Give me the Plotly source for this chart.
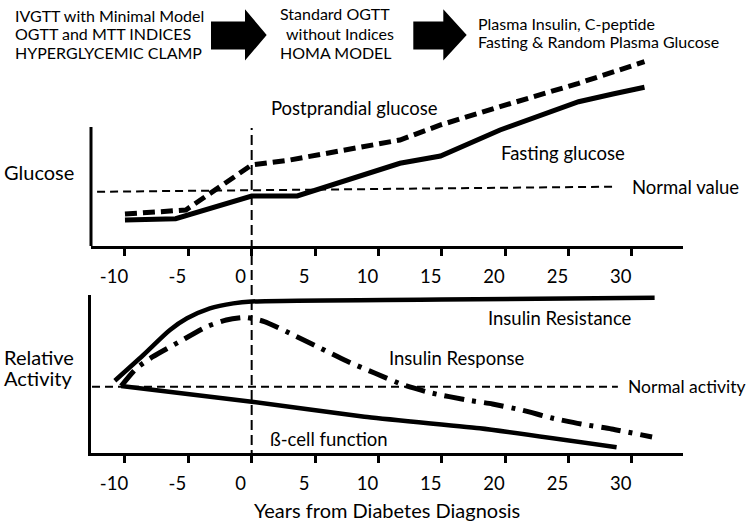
import plotly.graph_objects as go

# ---------------- data ----------------
tick_years = [-10, -5, 0, 5, 10, 15, 20, 25, 30]
tick_labels = ["-10", "-5", "0", "5", "10", "15", "20", "25", "30"]
diagnosis_year = [0, 0]

fasting_x = [-10, -6, 0, 3.6, 11.7, 14.9, 19.6, 25.8, 28.5, 31.0]
fasting_y = [46.0, 48.3, 88.5, 88.5, 146.4, 159.3, 205.3, 255.4, 269.0, 280.9]

post_x = [-10, -5.2, 0, 3.0, 11.7, 14.9, 19.6, 25.8, 31.0]
post_y = [56.6, 63.7, 143.4, 152.2, 187.6, 214.2, 246.6, 288.0, 326.2]

normal_glucose_x = [-12.2, 28.7]
normal_glucose_y = [96, 105]

ir_x = [-10.8, -8.55, -6.45, -5.1, -3.3, -1.45, 0, 15, 31.8]
ir_y = [109.0, 147.8, 185.5, 203.1, 218.2, 225.7, 228.5, 231.5, 234.2]

resp_x = [-10.3, -9.1, -7.8, -5.7, -3.55, -2.0, -0.5, 1.0, 3.3, 5.4, 7.5, 9.7,
          12.0, 14.2, 17.0, 19.0, 21.3, 23.7, 26.0, 28.4, 31.6]
resp_y = [101.0, 127.7, 145.2, 167.8, 190.5, 200.6, 204.3, 198.3, 177.9, 158.3,
          138.7, 120.6, 102.5, 90.5, 79.9, 73.9, 64.8, 52.8, 43.7, 36.2, 24.1]

beta_x = [-10.3, 0, 8.9, 18.0, 28.8]
beta_y = [101.0, 77.4, 54.7, 37.2, 8.6]

normal_activity_x = [-12.6, 28.9]
normal_activity_y = [100, 100]

# ---------------- layout constants ----------------
W, H = 750, 525
FONT = "Lato"
FS_HEAD = 16
FS_LBL = 18.5
FS_NORMAL = 17.5
FS_PANEL = 20
FS_TICK = 18.5
X_RANGE = [-12.68, 34.04]
X_DOMAIN = [91 / W, 683 / W]
TOP_DOMAIN = [(H - 246) / H, (H - 50) / H]
TOP_RANGE = [0, 346.9]
TOP_AXIS_MAX = 210.6
BOT_DOMAIN = [(H - 453) / H, (H - 295) / H]
BOT_RANGE = [0, 238.3]


def pp(px, py):
    return f"{px / W:.5f},{1 - py / H:.5f}"


fig = go.Figure()

# top panel
fig.add_trace(go.Scatter(x=post_x, y=post_y, mode="lines", xaxis="x", yaxis="y",
                         line=dict(color="black", width=5, dash="12px,6px")))
fig.add_trace(go.Scatter(x=fasting_x, y=fasting_y, mode="lines", xaxis="x", yaxis="y",
                         line=dict(color="black", width=5)))
fig.add_trace(go.Scatter(x=normal_glucose_x, y=normal_glucose_y, mode="lines",
                         xaxis="x", yaxis="y",
                         line=dict(color="black", width=2, dash="8px,5px")))

# bottom panel
fig.add_trace(go.Scatter(x=normal_activity_x, y=normal_activity_y, mode="lines",
                         xaxis="x2", yaxis="y2",
                         line=dict(color="black", width=2, dash="8px,5px")))
fig.add_trace(go.Scatter(x=ir_x, y=ir_y, mode="lines", xaxis="x2", yaxis="y2",
                         line=dict(color="black", width=4.5, shape="spline",
                                   smoothing=0.8)))
fig.add_trace(go.Scatter(x=resp_x, y=resp_y, mode="lines", xaxis="x2", yaxis="y2",
                         line=dict(color="black", width=5, shape="spline",
                                   smoothing=0.6, dash="20px,8px,4px,8px")))
fig.add_trace(go.Scatter(x=beta_x, y=beta_y, mode="lines", xaxis="x2", yaxis="y2",
                         line=dict(color="black", width=4.5, shape="spline",
                                   smoothing=0.5)))

axis_common = dict(range=X_RANGE, domain=X_DOMAIN, tickmode="array",
                   tickvals=tick_years, ticktext=tick_labels, ticks="outside",
                   ticklen=7, tickwidth=2.5, tickcolor="black", showline=True,
                   linewidth=3, linecolor="black", showgrid=False, zeroline=False,
                   ticklabelshift=-11, ticklabelstandoff=5,
                   tickfont=dict(family=FONT, size=FS_TICK, color="black"))

fig.update_layout(
    width=W, height=H,
    margin=dict(l=0, r=0, t=0, b=0),
    paper_bgcolor="white", plot_bgcolor="rgba(0,0,0,0)",
    showlegend=False,
    font=dict(family=FONT, size=FS_LBL, color="black"),
    xaxis=dict(anchor="y", **axis_common),
    xaxis2=dict(anchor="y2", **axis_common),
    yaxis=dict(anchor="x", domain=TOP_DOMAIN, range=TOP_RANGE, showline=False,
               showticklabels=False, showgrid=False, zeroline=False, ticks=""),
    yaxis2=dict(anchor="x2", domain=BOT_DOMAIN, range=BOT_RANGE, showline=True,
                linewidth=3, linecolor="black", showticklabels=False,
                showgrid=False, zeroline=False, ticks=""),
)

# top y-axis line (only the lower part of the panel)
fig.add_shape(type="line", xref="x domain", yref="y", x0=0, x1=0, y0=0,
              y1=TOP_AXIS_MAX, line=dict(color="black", width=3))

# diagnosis vertical dashed line
fig.add_shape(type="line", xref="x", yref="paper", x0=diagnosis_year[0],
              x1=diagnosis_year[1], y0=(H - 460) / H, y1=(H - 128) / H,
              line=dict(color="black", width=2, dash="10px,5px"))

# block arrows
for x0, x1, x2 in [(211, 245, 266.7), (413.3, 443.3, 466.7)]:
    path = ("M " + pp(x0, 21.5) + " L " + pp(x1, 21.5) + " L " + pp(x1, 9.3) +
            " L " + pp(x2, 35) + " L " + pp(x1, 60.5) + " L " + pp(x1, 49.5) +
            " L " + pp(x0, 49.5) + " Z")
    fig.add_shape(type="path", xref="paper", yref="paper", path=path,
                  fillcolor="black", line=dict(color="black", width=0))


def ann(text, px, py, size, xanchor="left"):
    fig.add_annotation(text=text, x=px / W, y=1 - py / H, xref="paper",
                       yref="paper", xanchor=xanchor, yanchor="middle",
                       showarrow=False, font=dict(family=FONT, size=size,
                                                  color="black"))


# header text
ann("IVGTT with Minimal Model", 13.3, 15, FS_HEAD)
ann("OGTT and MTT INDICES", 13.3, 33.5, FS_HEAD)
ann("HYPERGLYCEMIC CLAMP", 13.3, 53, FS_HEAD)
ann("Standard OGTT", 277.7, 13.5, FS_HEAD)
ann("without Indices", 284.3, 33.5, FS_HEAD)
ann("HOMA MODEL", 277.7, 53, FS_HEAD)
ann("Plasma Insulin, C-peptide", 476, 24, FS_HEAD)
ann("Fasting & Random Plasma Glucose", 476, 42, FS_HEAD)

# panel labels
ann("Glucose", 2.4, 171.7, FS_PANEL)
ann("Relative", 2.4, 356.8, FS_PANEL)
ann("Activity", 2.4, 378, FS_PANEL)
ann("Years from Diabetes Diagnosis", 387, 510, FS_PANEL, "center")

# labels of the reference lines (right of the plotting area)
ann("Normal value", 741, 186.7, FS_LBL, "right")
ann("Normal activity", 747, 386.7, FS_NORMAL, "right")


# series labels (data coordinates)
def dann(text, x, y, xref, yref, xanchor="center"):
    fig.add_annotation(text=text, x=x, y=y, xref=xref, yref=yref,
                       xanchor=xanchor, yanchor="middle", showarrow=False,
                       font=dict(family=FONT, size=FS_LBL, color="black"))


dann("Postprandial glucose", 8.15, 243.7, "x", "y")
dann("Fasting glucose", 24.53, 164.6, "x", "y")
dann("Insulin Resistance", 24.37, 203.1, "x2", "y2")
dann("Insulin Response", 16.24, 142.8, "x2", "y2")
dann("ß-cell function", 6.12, 21.1, "x2", "y2")

fig.write_html("out.html", post_script="document.body.style.margin='0';",
               config={"displayModeBar": False})
